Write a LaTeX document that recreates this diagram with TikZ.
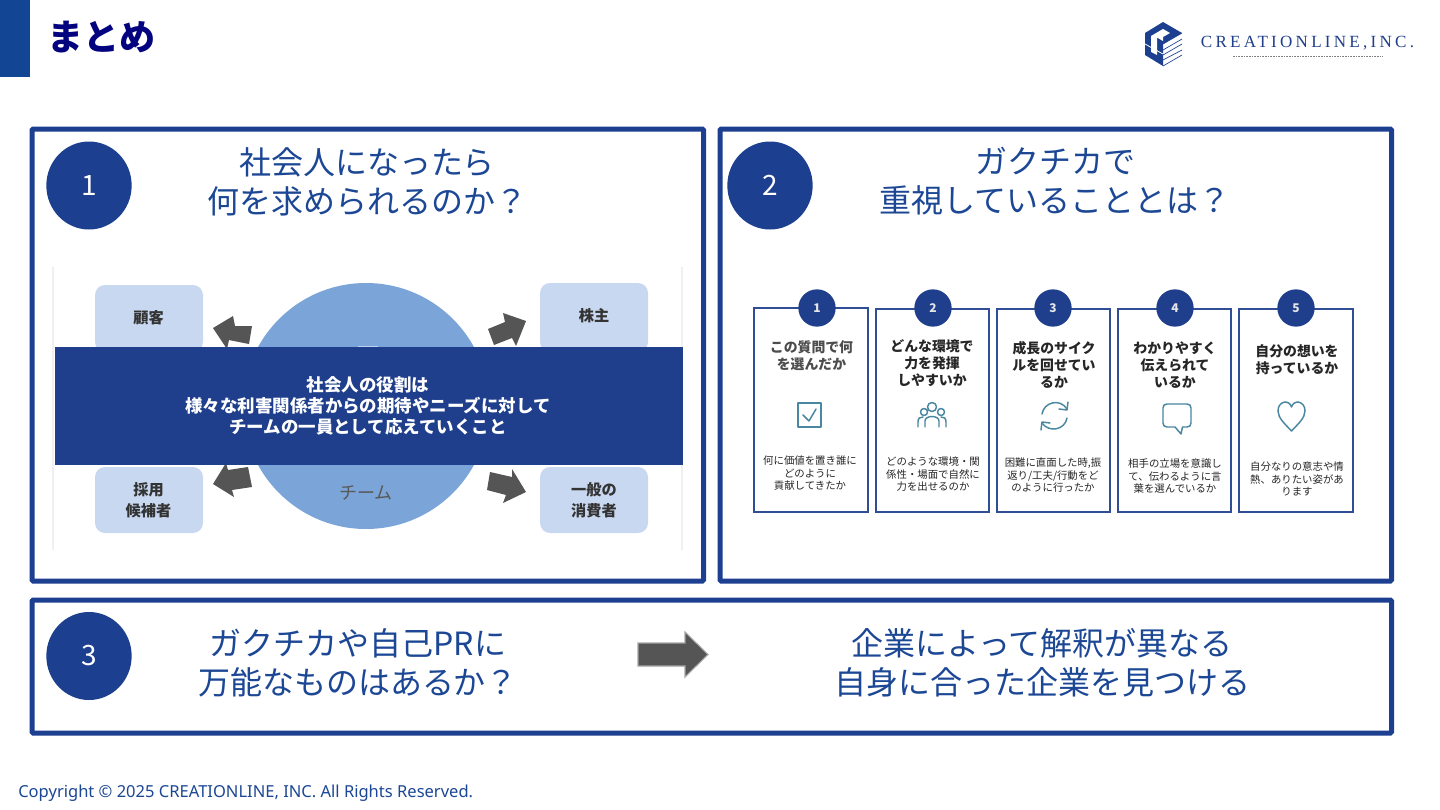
\documentclass[tikz,border=0pt]{standalone}
\usepackage{fontspec}
\usetikzlibrary{shapes.geometric}
\setmainfont{Noto Sans}
\newfontfamily\jp{Noto Sans CJK JP}
\newfontfamily\logofont[LetterSpace=19]{Liberation Serif}
\definecolor{bluemain}{HTML}{1C3F8F}
\definecolor{titleblue}{HTML}{1C4795}
\definecolor{bandblue}{HTML}{1F3F8C}
\definecolor{navytitle}{HTML}{03037F}
\definecolor{headbar}{HTML}{134595}
\definecolor{paleblue}{HTML}{C9D8F1}
\definecolor{circblue}{HTML}{7BA5D8}
\definecolor{darkarrow}{HTML}{555555}
\definecolor{teal}{HTML}{4A87A1}
\definecolor{cardline}{HTML}{2F4E96}
\tikzset{
 panel/.style={draw=bluemain,line width=3.75pt,fill=white,rounded corners=0.8pt},
 bigtext/.style={font=\jp\fontsize{24}{29.3}\selectfont,text=titleblue,align=center,inner sep=0pt},
 numcirc/.style={ellipse,fill=bluemain,minimum width=64pt,minimum height=66pt,inner sep=0pt,text=white,font=\jp\fontsize{21}{24}\selectfont},
 stake/.style={fill=paleblue,rounded corners=7.5pt},
 staketext/.style={font=\jp\bfseries\fontsize{11.4}{15.4}\selectfont,text=black!80,align=center,inner sep=0pt},
 blockarrow/.style={fill=darkarrow,draw=none},
 card/.style={draw=cardline,line width=1.2pt,fill=white},
 cardnum/.style={circle,fill=bandblue,minimum size=28pt,inner sep=0pt,text=white!90!black,font=\jp\bfseries\fontsize{9}{10}\selectfont},
 cardtitle/.style={font=\jp\bfseries\fontsize{10.4}{12.9}\selectfont,text=black!85,align=center,inner sep=0pt},
 carddesc/.style={font=\jp\fontsize{7.8}{9.4}\selectfont,text=black!85,align=center,inner sep=0pt},
 icon/.style={draw=teal,line width=1.1pt,line cap=round,line join=round},
}
\begin{document}
\begin{tikzpicture}[x=0.75pt,y=-0.75pt]
\useasboundingbox (0,0) rectangle (1440,810);
\fill[white] (0,0) rectangle (1440,810);
% header
\fill[headbar] (0,0) rectangle (30,77);
\node[anchor=center,inner sep=0pt,font=\jp\bfseries\fontsize{27}{30}\selectfont,text=navytitle] (pagetitle) at (101.5,37) {まとめ};
% logo
\fill[bluemain] (1163,22) -- (1182,33) -- (1163,44) -- (1163,66) -- (1145,55) -- (1145,33) -- cycle;
\fill[white] (1151,36) -- (1163,29) -- (1170,33) -- (1163,37) -- (1163,41) -- (1157,37.5) -- (1157,55) -- (1151,52) -- cycle;
\draw[white,line width=0.6pt] (1145,44) -- (1163,54);
\draw[bluemain,line width=0.5pt] (1163,44) -- (1182,33) (1163,50) -- (1182,39) (1163,55) -- (1182,44) (1163,60) -- (1182,50) (1163,66) -- (1182,55);
\node[anchor=center,inner sep=0pt,font=\logofont\fontsize{12.8}{14}\selectfont,text=bandblue] (logotext) at (1307.5,43) {CREATIONLINE,INC.};
\draw[gray,line width=0.5pt,dash pattern=on 1.2pt off 0.8pt] (1233,56.5) -- (1383,56.5);
% panels
\draw[panel] (32,129) rectangle (703.5,581);
\draw[panel] (720,129) rectangle (1391.5,581);
\draw[panel] (32,600) rectangle (1391.5,733);
\node[numcirc] (n1) at (89,185.5) {1};
\node[numcirc] (n2) at (770,185.5) {2};
\node[numcirc] (n3) at (89,656) {3};
\node[bigtext] (t1) at (367,181.5) {社会人になったら\\何を求められるのか？};
\node[bigtext] (t2) at (1055,181.5) {ガクチカで\\重視していることとは？};
\node[bigtext] (t3) at (358,663) {ガクチカや自己PRに\\万能なものはあるか？};
\node[bigtext] (t4) at (1042,663) {企業によって解釈が異なる\\自身に合った企業を見つける};
\fill[darkarrow,draw=black!35,line width=0.8pt] (638,643) -- (685,643) -- (685,632) -- (708,654.5) -- (685,677) -- (685,666) -- (638,666) -- cycle;
% panel 1 figure
\draw[black!6,line width=0.8pt] (53,267) -- (53,550) (682,267) -- (682,550);
\fill[circblue] (366,406) circle (123);
\fill[stake] (95,285) rectangle (203,352);
\fill[stake] (540,283) rectangle (648,352);
\fill[stake] (95,467) rectangle (203,533);
\fill[stake] (540,467) rectangle (648,533);
\node[staketext] (s1) at (148.5,318) {顧客};
\node[staketext] (s2) at (594,316) {株主};
\node[staketext] (s3) at (148.5,500) {採用\\候補者};
\node[staketext] (s4) at (594,500) {一般の\\消費者};
\node[inner sep=0pt,font=\jp\fontsize{13.5}{16}\selectfont,text=black!65] (team) at (366,493) {チーム};
\fill[blockarrow] (213,328) -- (233,316) -- (235,326) -- (252,326) -- (249,344) -- (229,340) -- (227,349) -- cycle;
\fill[blockarrow] (213,484) -- (226,463) -- (228,470) -- (248,467) -- (252,487) -- (232,490) -- (234,497) -- cycle;
\fill[blockarrow] (526,321) -- (503,313) -- (505,322) -- (488,329) -- (494,345) -- (512,338) -- (516,346) -- cycle;
\fill[blockarrow] (526,492) -- (512,469) -- (512,477) -- (490,472) -- (487,490) -- (506,495) -- (503,503) -- cycle;
\fill[white!50!circblue] (358,350) rectangle (378,345.5);
\fill[bandblue] (55,347) rectangle (683,465);
\node[inner sep=0pt,align=center,text=white,font=\jp\bfseries\fontsize{13.1}{15.8}\selectfont] (bandtext) at (368,406) {社会人の役割は\\様々な利害関係者からの期待やニーズに対して\\チームの一員として応えていくこと};
% cards
\draw[card] (754,308) rectangle (868,512);
\draw[card] (876,309) rectangle (989,512);
\draw[card] (997,309) rectangle (1110,512);
\draw[card] (1118,309) rectangle (1231,512);
\draw[card] (1239,309) rectangle (1353,512);
\node[cardnum] (c1) at (817,308) {1};
\node[cardnum] (c2) at (933,308) {2};
\node[cardnum] (c3) at (1053,308) {3};
\node[cardnum] (c4) at (1175,308) {4};
\node[cardnum] (c5) at (1296,308) {5};
\node[cardtitle,text=black!70] (ct1) at (811.5,356) {この質問で何\\を選んだか};
\node[cardtitle] (ct2) at (932,363) {どんな環境で\\力を発揮\\しやすいか};
\node[cardtitle] (ct3) at (1054,365) {成長のサイク\\ルを回せてい\\るか};
\node[cardtitle] (ct4) at (1175,365) {わかりやすく\\伝えられて\\いるか};
\node[cardtitle] (ct5) at (1297,360) {自分の想いを\\持っているか};
\node[carddesc] (cd1) at (810,473.5) {何に価値を置き誰に\\どのように\\貢献してきたか};
\node[carddesc] (cd2) at (933,474.5) {どのような環境・関\\係性・場面で自然に\\力を出せるのか};
\node[carddesc] (cd3) at (1053,475.5) {困難に直面した時,振\\返り/工夫/行動をど\\のように行ったか};
\node[carddesc] (cd4) at (1175,476.5) {相手の立場を意識し\\て、伝わるように言\\葉を選んでいるか};
\node[carddesc] (cd5) at (1297,479) {自分なりの意志や情\\熱、ありたい姿があ\\ります};
% icons
\draw[icon] (798,403) rectangle (821,427);
\draw[icon] (803,415) -- (809,421) -- (816,409);
\draw[icon] (932,407) circle (4.5) (924,412) circle (3.5) (941,412) circle (3.5);
\draw[icon] (925,427) -- (925,421) .. controls (925,415) and (939,415) .. (939,421) -- (939,427);
\draw[icon] (918,427) -- (918,422) .. controls (918,418) and (920,417) .. (923,417);
\draw[icon] (946,427) -- (946,422) .. controls (946,418) and (944,417) .. (941,417);
\draw[icon] (1042,414) .. controls (1044,402) and (1060,398) .. (1067,409);
\draw[icon] (1068,402) -- (1067,410) -- (1059,409);
\draw[icon] (1067,418) .. controls (1065,430) and (1049,433) .. (1042,423);
\draw[icon] (1041,430) -- (1042,422) -- (1050,423);
\draw[icon] (1167,404) -- (1187,404) .. controls (1189.5,404) and (1191,405.5) .. (1191,408) -- (1191,423) .. controls (1191,425.5) and (1189.5,427) .. (1187,427) -- (1182.5,427) -- (1181,434) -- (1175,427) -- (1167,427) .. controls (1164.5,427) and (1163,425.5) .. (1163,423) -- (1163,408) .. controls (1163,405.5) and (1164.5,404) .. (1167,404) -- cycle;
\draw[icon] (1291.5,431) .. controls (1285,424) and (1278,418) .. (1278,411) .. controls (1278,401) and (1289,399) .. (1291.5,407) .. controls (1294,399) and (1305,401) .. (1305,411) .. controls (1305,418) and (1298,424) .. (1291.5,431) -- cycle;
% footer
\node[anchor=west,inner sep=0pt,font=\fontsize{12.4}{14}\selectfont,text=titleblue] (footer) at (18,793) {Copyright © 2025 CREATIONLINE, INC. All Rights Reserved.};
\end{tikzpicture}
\end{document}
